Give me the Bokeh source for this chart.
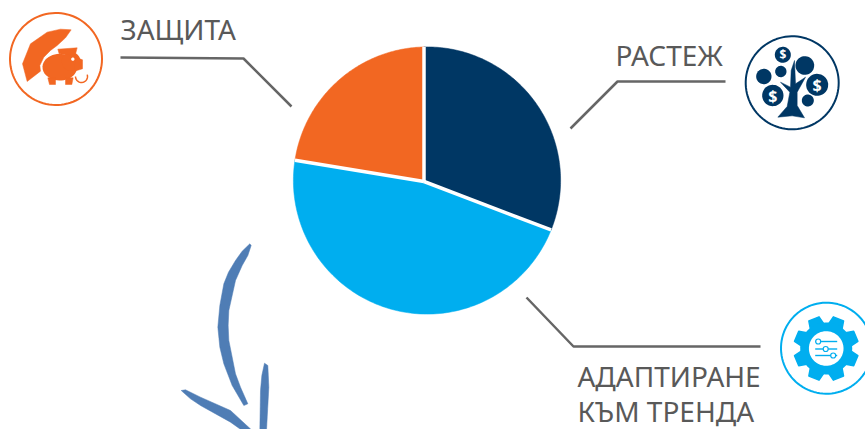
import math
import numpy as np
from bokeh.plotting import figure
from bokeh.models import Range1d
from bokeh.core.properties import value
from bokeh.embed import file_html
from bokeh.resources import INLINE

# --- chart data -------------------------------------------------------
categories = ["РАСТЕЖ", "АДАПТИРАНЕ КЪМ ТРЕНДА", "ЗАЩИТА"]
shares = [30.8, 46.8, 22.4]
slice_colors = ["#003764", "#00AEEF", "#F26722"]

# --- layout -----------------------------------------------------------
W, H = 865, 429
CX, CY, R = 426.5, 180.0, 133.6
AX, AY = 423.5, 181.0
TXT = "#595959"
LINE = "#666666"
FONT = value("Noto Sans")
NAVY, BLUE, ORANGE = slice_colors
BASE_SHIFT = 11.5

p = figure(width=W, height=H, output_backend="svg", toolbar_location=None,
           x_range=Range1d(0, W), y_range=Range1d(H, 0),
           x_axis_location=None, y_axis_location=None,
           min_border=0, outline_line_color=None, background_fill_color="white",
           border_fill_color="white")
p.grid.visible = False


def rim_point(theta):
    """Where a ray from the apex at clockwise angle theta meets the rim."""
    dx, dy = math.sin(theta), -math.cos(theta)
    ox, oy = AX - CX, AY - CY
    b = ox * dx + oy * dy
    c = ox * ox + oy * oy - R * R
    t = -b + math.sqrt(b * b - c)
    return AX + t * dx, AY + t * dy


edges = np.cumsum([0.0] + shares) / sum(shares) * 2 * math.pi
xs, ys, sep_x1, sep_y1 = [], [], [], []
for a0, a1 in zip(edges[:-1], edges[1:]):
    pts = [rim_point(t) for t in np.linspace(a0, a1, 120)]
    xs.append([AX] + [q[0] for q in pts])
    ys.append([AY] + [q[1] for q in pts])
    e = rim_point(a0)
    sep_x1.append(e[0])
    sep_y1.append(e[1])
p.patches(xs, ys, fill_color=slice_colors, line_color=slice_colors, line_width=0.5)
p.segment([AX] * 3, [AY] * 3, sep_x1, sep_y1, line_color="white", line_width=3.5)

# --- leader lines -----------------------------------------------------
for lx, ly in [([120, 243, 291], [57, 58, 106]),
               ([725, 617, 570], [81, 81, 128]),
               ([760, 573, 526], [346, 346, 297])]:
    p.line(lx, ly, line_color=LINE, line_width=2.5)

# --- labels -----------------------------------------------------------
for tx, ty, label in [(120, 40, "ЗАЩИТА"), (615, 66, "РАСТЕЖ"),
                      (577, 387, "АДАПТИРАНЕ"), (577, 422, "КЪМ ТРЕНДА")]:
    p.text([tx], [ty - BASE_SHIFT], text=[label], text_font=FONT, text_font_size="28px",
           text_color=TXT, text_baseline="alphabetic")


# --- icons: helpers in "zoom" coordinates ------------------------------
def poly(pts, ox, oy, color, alpha=1.0):
    p.patch([ox + a / 3 for a, _ in pts], [oy + b / 3 for _, b in pts],
            fill_color=color, line_color=color, line_width=0.5, fill_alpha=alpha,
            line_alpha=alpha)


def disc(cx, cy, r, ox, oy, color, ry=None):
    t = np.linspace(0, 2 * math.pi, 48)
    p.patch(ox + (cx + r * np.cos(t)) / 3, oy + (cy + (ry or r) * np.sin(t)) / 3,
            fill_color=color, line_color=None)


def ring(cx, cy, r, color, width=2.0):
    t = np.linspace(0, 2 * math.pi, 96)
    p.line(cx + r * np.cos(t), cy + r * np.sin(t), line_color=color, line_width=width)


# Umbrella and piggy bank
ring(55.5, 58.5, 46, ORANGE)
poly([(80, 243), (66, 190), (90, 130), (140, 95), (180, 86), (212, 88), (195, 112), (170, 135),
      (150, 150), (130, 170), (118, 195), (120, 212)], 0, 0, ORANGE)
disc(178, 200, 52, 0, 0, ORANGE, ry=40)
disc(212, 183, 28, 0, 0, ORANGE)
poly([(225, 170), (246, 178), (246, 205), (222, 212)], 0, 0, ORANGE)
poly([(172, 146), (230, 142), (224, 165), (176, 160)], 0, 0, ORANGE)
poly([(142, 232), (165, 232), (165, 252), (147, 252)], 0, 0, ORANGE)
poly([(195, 232), (218, 232), (214, 252), (195, 252)], 0, 0, ORANGE)
disc(217, 176, 5, 0, 0, "white")
t = np.linspace(math.pi, 2.1 * math.pi, 20)
p.line((243 + 18 * np.cos(t)) / 3, (228 - 18 * np.sin(t)) / 3,
       line_color=ORANGE, line_width=1.5)

# Money tree
TX, TY = 600, 20
ring(791.7, 82.3, 46.5, NAVY)
poly([(532, 290), (560, 258), (568, 215), (540, 185), (570, 200), (572, 150), (582, 120),
      (585, 190), (615, 170), (590, 215), (590, 255), (612, 292), (575, 286)], TX, TY, NAVY)
for cx, cy, r in [(547, 103, 24), (613, 135, 28), (490, 168, 23), (541, 153, 17),
                  (650, 193, 33), (517, 225, 32), (622, 240, 18)]:
    disc(cx, cy, r, TX, TY, NAVY)
p.text([TX + v / 3 for v in (547, 650, 517)], [TY + v / 3 for v in (103, 193, 225)],
       text=["$", "$", "$"], text_font=value("Noto Sans"), text_font_style="bold",
       text_font_size=["12px", "16px", "16px"], text_color="white", text_align="center",
       text_baseline="middle")

# Gear
GX, GY = 825.7, 348.0
ring(826, 347.7, 45.5, BLUE)
ang = np.linspace(0, 2 * math.pi, 8, endpoint=False) + math.pi / 8
for a in ang:
    ca, sa = math.cos(a), math.sin(a)
    qx = [GX + u * ca - v * sa for u, v in [(20, -8), (32, -5.5), (32, 5.5), (20, 8)]]
    qy = [GY + u * sa + v * ca for u, v in [(20, -8), (32, -5.5), (32, 5.5), (20, 8)]]
    p.patch(qx, qy, fill_color=BLUE, line_color=BLUE, line_width=1.5, line_join="round")
t = np.linspace(0, 2 * math.pi, 64)
p.patch(GX + 26 * np.cos(t), GY + 26 * np.sin(t), fill_color=BLUE, line_color=None)
p.patch(GX + 17.3 * np.cos(t), GY + 17.3 * np.sin(t), fill_color="white", line_color=None)
for yy, kx in [(GY - 7, GX - 8), (GY + 0.5, GX - 0.5), (GY + 7, GX + 7)]:
    p.line([GX - 11, GX + 11], [yy, yy], line_color=BLUE, line_width=1.4)
    p.scatter([kx], [yy], size=5, marker="circle", fill_color="white", line_color=BLUE,
              line_width=1.2)

# Brush-stroke arrow
BX, BY = 160, 230
STROKE = "#4F7DB5"
poly([(268, 40), (245, 62), (225, 90), (204, 125), (190, 160), (178, 225), (172, 290),
      (178, 350), (190, 400), (215, 465), (250, 525), (262, 520), (240, 470), (225, 430),
      (205, 330), (203, 285), (205, 240), (225, 150), (245, 105), (262, 75), (272, 45)],
     BX, BY, STROKE)
poly([(312, 398), (304, 435), (300, 480), (298, 600), (318, 600), (325, 470), (322, 405)],
     BX, BY, STROKE)
poly([(62, 480), (90, 505), (120, 525), (210, 575), (245, 600), (275, 600), (210, 540),
      (120, 500), (75, 478)], BX, BY, STROKE)

open("out.html", "w").write(file_html(p, INLINE))
